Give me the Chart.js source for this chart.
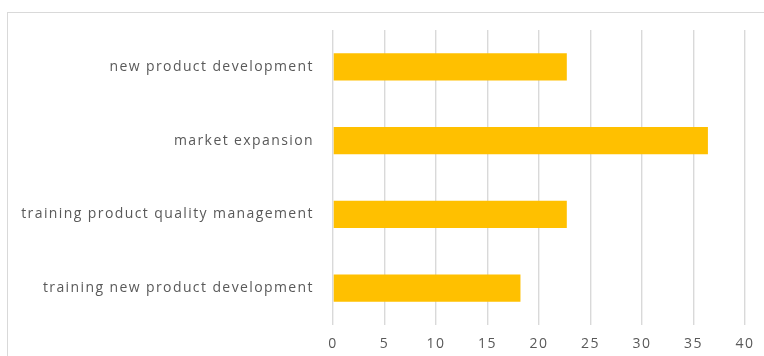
<!DOCTYPE html>
<html>
<head>
<meta charset="utf-8">
<script src="https://cdn.jsdelivr.net/npm/chart.js@4/dist/chart.umd.min.js"></script>
<style>
  html, body { margin: 0; padding: 0; background: #fff; }
  body { width: 764px; height: 356px; position: relative; overflow: hidden; }
  #caption {
    position: absolute; left: 3px; top: 0; width: 764px; height: 8px; overflow: hidden;
  }
  #caption span {
    position: absolute; left: 0; top: -24px; width: 640px; white-space: nowrap;
    text-align: justify; text-align-last: justify;
    font-family: "Liberation Serif", serif; font-size: 21px; color: #222;
  }
  #frame {
    position: absolute; left: 7px; top: 12px; width: 800px; height: 400px;
    border: 1px solid #d9d9d9; box-sizing: border-box;
  }
  #wrap { position: absolute; left: 0; top: 0; width: 764px; height: 356px; }
</style>
</head>
<body>
<div id="caption"><span>(22.7%), and (4) training new product development (18.2%).</span></div>
<div id="frame"></div>
<div id="wrap"><canvas id="myChart"></canvas></div>
<script>
var categories = [
    'new product development',
    'market expansion',
    'training product quality management',
    'training new product development'
];
var values = [22.7, 36.4, 22.7, 18.2];
var xTicks = [0, 5, 10, 15, 20, 25, 30, 35, 40];

// wide letter spacing like the original labels
var spacing = {
    id: 'spacing',
    beforeDraw: function (chart) { chart.ctx.letterSpacing = '1.4px'; },
    afterDraw: function (chart) { chart.ctx.letterSpacing = '0px'; }
};

function drawChart() {
    var ctx = document.getElementById('myChart').getContext('2d');
    var myBarChart = new Chart(ctx, {
        type: 'bar',
        data: {
            labels: categories,
            datasets: [{
                data: values,
                backgroundColor: '#FFC000',
                borderWidth: 0,
                categoryPercentage: 1,
                barPercentage: 0.37
            }]
        },
        options: {
            indexAxis: 'y',
            responsive: true,
            maintainAspectRatio: false,
            animation: false,
            layout: {
                padding: { left: 0, right: 19, top: 30, bottom: 0 }
            },
            plugins: {
                legend: { display: false },
                tooltip: { enabled: false }
            },
            scales: {
                x: {
                    min: 0,
                    max: 40,
                    afterBuildTicks: function (axis) {
                        axis.ticks = xTicks.map(function (v) { return { value: v }; });
                    },
                    grid: {
                        color: '#d9d9d9',
                        lineWidth: 1.4,
                        drawTicks: false
                    },
                    border: { display: false },
                    ticks: {
                        color: '#595959',
                        padding: 11,
                        font: { family: 'Open Sans', size: 14 }
                    },
                    afterFit: function (axis) { axis.height = 31; }
                },
                y: {
                    grid: { display: false, drawTicks: false },
                    border: { display: false },
                    ticks: {
                        color: '#595959',
                        padding: 19,
                        font: { family: 'Open Sans', size: 14 }
                    },
                    afterFit: function (axis) { axis.width = 333; }
                }
            }
        },
        plugins: [spacing]
    });
}
drawChart();
</script>
</body>
</html>
